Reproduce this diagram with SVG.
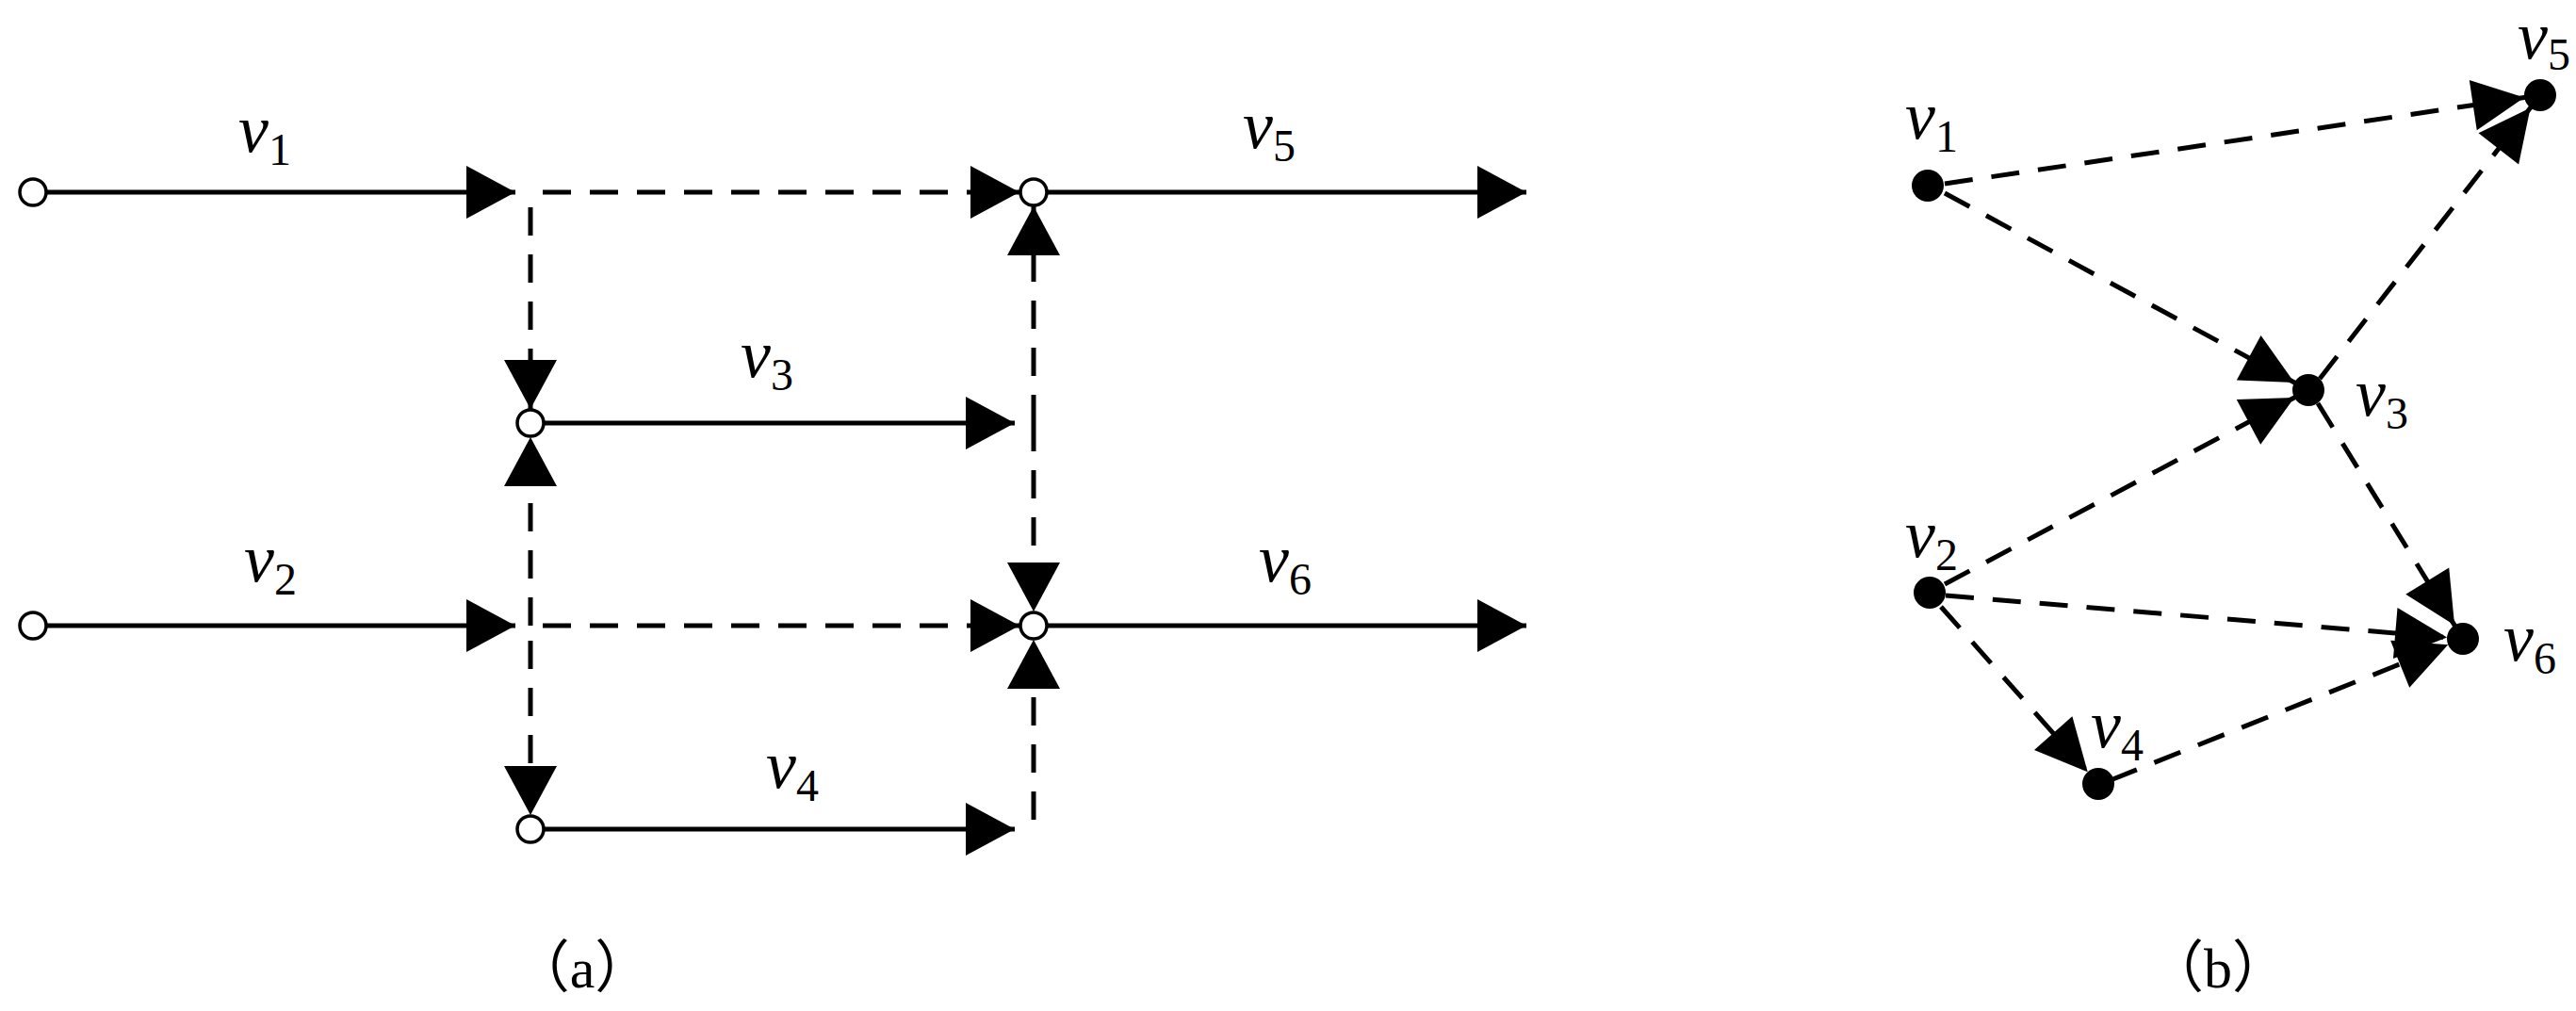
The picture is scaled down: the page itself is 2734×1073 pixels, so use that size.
<svg xmlns="http://www.w3.org/2000/svg" width="2734" height="1073" viewBox="0 0 2734 1073">
<style>
.s{stroke:#000;stroke-width:5;fill:none}
.d{stroke:#000;stroke-width:5;fill:none;stroke-dasharray:30 20}
.oc{fill:#fff;stroke:#000;stroke-width:3.5}
.fc{fill:#000}
.t{font-family:"Liberation Serif","Times New Roman",serif;font-style:italic;font-size:72px}
.sub{font-style:normal;font-size:48px}
.cap{font-family:"Liberation Serif","Noto Sans CJK SC",serif;font-size:60px}
</style>
<defs>
<marker id="a" markerUnits="userSpaceOnUse" markerWidth="80" markerHeight="60" viewBox="0 -30 80 60" refX="52" refY="0" orient="auto" overflow="visible"><path d="M0,-28 L52,0 L0,28 z" fill="#000"/></marker>
<marker id="ac" markerUnits="userSpaceOnUse" markerWidth="80" markerHeight="60" viewBox="0 -30 80 60" refX="67" refY="0" orient="auto" overflow="visible"><path d="M0,-28 L52,0 L0,28 z" fill="#000"/></marker>
<marker id="ab" markerUnits="userSpaceOnUse" markerWidth="80" markerHeight="60" viewBox="0 -30 80 60" refX="72" refY="0" orient="auto" overflow="visible"><path d="M0,-27 L55,0 L0,27 z" fill="#000"/></marker>
</defs>
<g id="connectors">
<line class="s" x1="50" y1="204" x2="547" y2="204" marker-end="url(#a)"/>
<line class="s" x1="50" y1="664" x2="547" y2="664" marker-end="url(#a)"/>
<line class="s" x1="577" y1="449" x2="1077" y2="449" marker-end="url(#a)"/>
<line class="s" x1="577" y1="880" x2="1077" y2="880" marker-end="url(#a)"/>
<line class="s" x1="1111" y1="204" x2="1620" y2="204" marker-end="url(#a)"/>
<line class="s" x1="1111" y1="664" x2="1620" y2="664" marker-end="url(#a)"/>
<line class="d" x1="576" y1="204" x2="1097" y2="204" marker-end="url(#ac)"/>
<line class="d" x1="576" y1="664" x2="1097" y2="664" marker-end="url(#ac)"/>
<line class="d" x1="563" y1="220" x2="563" y2="449" marker-end="url(#ac)"/>
<line class="d" x1="563" y1="664" x2="563" y2="449" marker-end="url(#ac)"/>
<line class="d" x1="563" y1="680" x2="563" y2="880" marker-end="url(#ac)"/>
<line class="d" x1="1097" y1="449" x2="1097" y2="204" marker-end="url(#ac)"/>
<line class="d" x1="1097" y1="449" x2="1097" y2="664" marker-end="url(#ac)"/>
<line class="d" x1="1097" y1="870" x2="1097" y2="664" marker-end="url(#ac)"/>
<line class="d" x1="2064" y1="195" x2="2696" y2="101" marker-end="url(#ab)"/>
<line class="d" x1="2064" y1="205" x2="2450" y2="414" marker-end="url(#ab)"/>
<line class="d" x1="2462" y1="402" x2="2696" y2="101" marker-end="url(#ab)"/>
<line class="d" x1="2064" y1="620" x2="2450" y2="414" marker-end="url(#ab)"/>
<line class="d" x1="2460" y1="428" x2="2614" y2="678" marker-end="url(#ab)"/>
<line class="d" x1="2065" y1="632" x2="2614" y2="678" marker-end="url(#ab)"/>
<line class="d" x1="2060" y1="644" x2="2227" y2="832" marker-end="url(#ab)"/>
<line class="d" x1="2240" y1="828" x2="2614" y2="678" marker-end="url(#ab)"/>
</g>
<g id="a1"><circle class="oc" cx="35" cy="204" r="14"/></g>
<g id="a2"><circle class="oc" cx="35" cy="664" r="14"/></g>
<g id="a3"><circle class="oc" cx="563" cy="449" r="14"/></g>
<g id="a4"><circle class="oc" cx="563" cy="880" r="14"/></g>
<g id="a5"><circle class="oc" cx="1097" cy="204" r="14"/></g>
<g id="a6"><circle class="oc" cx="1097" cy="664" r="14"/></g>
<g id="labels-a">
<text class="t" x="253" y="161">v<tspan class="sub" dy="14">1</tspan></text>
<text class="t" x="259" y="617">v<tspan class="sub" dy="14">2</tspan></text>
<text class="t" x="786" y="400">v<tspan class="sub" dy="14">3</tspan></text>
<text class="t" x="813" y="836">v<tspan class="sub" dy="14">4</tspan></text>
<text class="t" x="1319" y="157">v<tspan class="sub" dy="14">5</tspan></text>
<text class="t" x="1336" y="617">v<tspan class="sub" dy="14">6</tspan></text>
</g>
<g id="b1"><circle class="fc" cx="2046" cy="197" r="17"/><text class="t" x="2022" y="147">v<tspan class="sub" dy="14">1</tspan></text></g>
<g id="b2"><circle class="fc" cx="2048" cy="629" r="17"/><text class="t" x="2022" y="591">v<tspan class="sub" dy="14">2</tspan></text></g>
<g id="b3"><circle class="fc" cx="2450" cy="414" r="17"/><text class="t" x="2500" y="441">v<tspan class="sub" dy="14">3</tspan></text></g>
<g id="b4"><circle class="fc" cx="2227" cy="832" r="17"/><text class="t" x="2219" y="793">v<tspan class="sub" dy="14">4</tspan></text></g>
<g id="b5"><circle class="fc" cx="2696" cy="101" r="17"/><text class="t" x="2672" y="62">v<tspan class="sub" dy="12">5</tspan></text></g>
<g id="b6"><circle class="fc" cx="2614" cy="678" r="17"/><text class="t" x="2657" y="701">v<tspan class="sub" dy="14">6</tspan></text></g>
<text class="cap" x="618" y="1048" text-anchor="middle">（a）</text>
<text class="cap" x="2354" y="1048" text-anchor="middle">（b）</text>
</svg>
